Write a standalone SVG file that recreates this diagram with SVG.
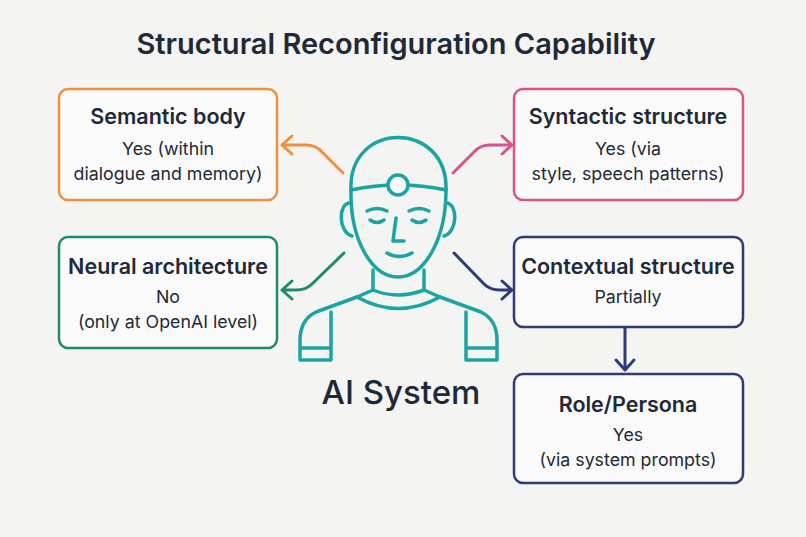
<svg xmlns="http://www.w3.org/2000/svg" width="806" height="537" viewBox="0 0 806 537">
<style>
.t{font-family:"Inter","Liberation Sans",sans-serif;fill:#1f2937;text-anchor:middle}
.h{font-size:21.5px;font-weight:600}
.b{font-size:17.8px}
.box{fill:#fafafa;stroke-width:2.5}
.ln{fill:none;stroke-width:3;stroke-linecap:round;stroke-linejoin:round}
.fig{fill:none;stroke:#1aa5a3;stroke-width:3.5;stroke-linecap:round;stroke-linejoin:round}
</style>
<rect width="806" height="537" fill="#f4f4f3"/>
<text class="t" x="396" y="54" style="font-size:29px;font-weight:600">Structural Reconfiguration Capability</text>
<g id="semantic"><rect class="box" x="59" y="89" width="218" height="111" rx="9" stroke="#f0903a"/>
<text class="t h" x="168" y="124">Semantic body</text><text class="t b" x="168" y="155">Yes (within</text><text class="t b" x="168" y="180">dialogue and memory)</text></g>
<g id="syntactic"><rect class="box" x="514" y="89" width="229" height="111" rx="9" stroke="#d9538a"/>
<text class="t h" x="628" y="124">Syntactic structure</text><text class="t b" x="628" y="155">Yes (via</text><text class="t b" x="628" y="180">style, speech patterns)</text></g>
<g id="neural"><rect class="box" x="59" y="237" width="218" height="111" rx="9" stroke="#1e8a6e"/>
<text class="t h" x="168" y="274">Neural architecture</text><text class="t b" x="168" y="303">No</text><text class="t b" x="168" y="328">(only at OpenAI level)</text></g>
<g id="contextual"><rect class="box" x="514" y="237" width="229" height="90" rx="9" stroke="#2e3a7a"/>
<text class="t h" x="628" y="274">Contextual structure</text><text class="t b" x="628" y="303">Partially</text></g>
<g id="role"><rect class="box" x="514" y="374" width="229" height="109" rx="9" stroke="#2e3a7a"/>
<text class="t h" x="628" y="412">Role/Persona</text><text class="t b" x="628" y="441">Yes</text><text class="t b" x="628" y="466">(via system prompts)</text></g>
<g id="ai-system">
<path class="fig" d="M351,190 C348,120 448,120 446,190"/>
<path class="fig" d="M351,190 Q398,180 446,190"/>
<circle cx="398" cy="185" r="10" fill="#fafafa" stroke="#1aa5a3" stroke-width="3.5"/>
<path class="fig" d="M351,190 C350,240 372,277 398,277 C424,277 446,240 446,190"/>
<path class="fig" d="M350,203 C338,203 338,232 352,236 M446,203 C458,203 458,232 444,236"/>
<path class="fig" d="M367,211 Q377,206 387,211 M409,211 Q419,206 429,211 M370,220 Q377,225 384,220 M412,220 Q419,225 426,220"/>
<path class="fig" d="M396,218 L393,241 L404,241 M387,253 Q399,260 412,253"/>
<path class="fig" d="M373,270 L373,290 M424,270 L424,290"/>
<path class="fig" d="M357,297 Q398,320 440,297 M373,290 Q398,300 424,290"/>
<path class="fig" d="M373,290 L357,297 L316,312 Q300,320 300,340 L300,360 L331,360 L331,312 M300,348 L331,348"/>
<path class="fig" d="M424,290 L440,297 L481,312 Q497,320 497,340 L497,360 L466,360 L466,312 M466,348 L497,348"/>
<text class="t" x="401" y="404" style="font-size:33px;font-weight:500">AI System</text>
</g>
<g id="connectors">
<path class="ln" stroke="#f0903a" d="M343,173 L322,152 Q316,145 306,145 L282,145 M292,136 L282,145 L292,154"/>
<path class="ln" stroke="#d9538a" d="M453,173 L474,152 Q480,145 490,145 L512,145 M502,136 L512,145 L502,154"/>
<path class="ln" stroke="#1e8a6e" d="M344,253 L312,284 Q306,290 296,290 L282,290 M292,281 L282,290 L292,299"/>
<path class="ln" stroke="#2e3a7a" d="M454,253 L484,284 Q490,290 500,290 L512,290 M502,281 L512,290 L502,299"/>
<path class="ln" stroke="#2e3a7a" d="M625,328 L625,370 M616,360 L625,370 L634,360"/>
</g>
</svg>
